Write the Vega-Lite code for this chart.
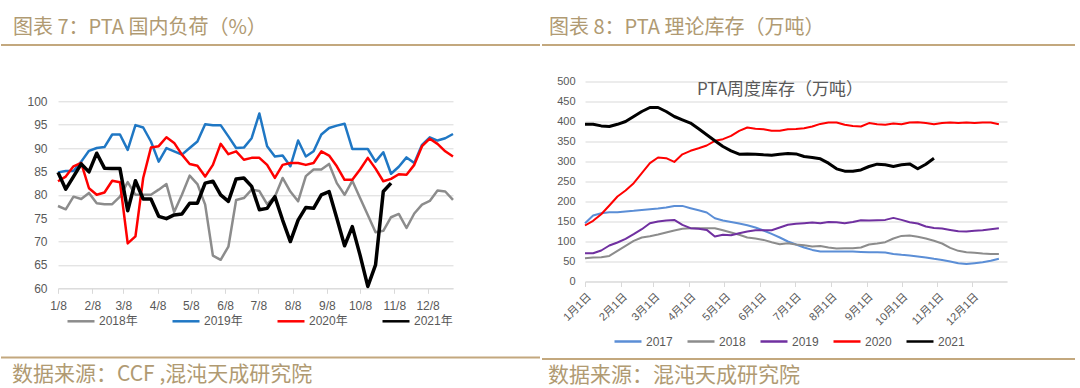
{
"$schema": "https://vega.github.io/schema/vega-lite/v6.json",
"padding": {"top": 17, "left": 0, "right": 0, "bottom": 4},
"background": "white",
"config": {"view": {"stroke": null}, "font": "Liberation Sans, Noto Sans CJK SC", "axis": {"labelFont": "Liberation Sans, Noto Sans CJK SC"}, "legend": {"labelFont": "Liberation Sans, Noto Sans CJK SC"}},
"datasets": {
"left": [
{"d":"2001-01-08","s":"2018年","v":77.6},{"d":"2001-01-15","s":"2018年","v":76.9},{"d":"2001-01-22","s":"2018年","v":79.6},{"d":"2001-01-29","s":"2018年","v":79.1},{"d":"2001-02-05","s":"2018年","v":80.4},{"d":"2001-02-12","s":"2018年","v":78.2},{"d":"2001-02-19","s":"2018年","v":78},{"d":"2001-02-26","s":"2018年","v":78},{"d":"2001-03-05","s":"2018年","v":79.6},{"d":"2001-03-12","s":"2018年","v":82.7},{"d":"2001-03-19","s":"2018年","v":80},{"d":"2001-03-26","s":"2018年","v":80},{"d":"2001-04-02","s":"2018年","v":80},{"d":"2001-04-09","s":"2018年","v":81.1},{"d":"2001-04-16","s":"2018年","v":82.3},{"d":"2001-04-23","s":"2018年","v":76.3},{"d":"2001-04-30","s":"2018年","v":80},{"d":"2001-05-07","s":"2018年","v":84.1},{"d":"2001-05-14","s":"2018年","v":82.3},{"d":"2001-05-21","s":"2018年","v":77.9},{"d":"2001-05-28","s":"2018年","v":67},{"d":"2001-06-04","s":"2018年","v":66.1},{"d":"2001-06-11","s":"2018年","v":68.9},{"d":"2001-06-18","s":"2018年","v":78.9},{"d":"2001-06-25","s":"2018年","v":79.3},{"d":"2001-07-02","s":"2018年","v":81.1},{"d":"2001-07-09","s":"2018年","v":80.8},{"d":"2001-07-16","s":"2018年","v":78},{"d":"2001-07-23","s":"2018年","v":79.6},{"d":"2001-07-30","s":"2018年","v":83.6},{"d":"2001-08-06","s":"2018年","v":80.7},{"d":"2001-08-13","s":"2018年","v":78.6},{"d":"2001-08-20","s":"2018年","v":84},{"d":"2001-08-27","s":"2018年","v":85.4},{"d":"2001-09-03","s":"2018年","v":85.4},{"d":"2001-09-10","s":"2018年","v":86.6},{"d":"2001-09-17","s":"2018年","v":82.5},{"d":"2001-09-24","s":"2018年","v":80},{"d":"2001-10-01","s":"2018年","v":83},{"d":"2001-10-08","s":"2018年","v":79.3},{"d":"2001-10-15","s":"2018年","v":75.7},{"d":"2001-10-22","s":"2018年","v":72},{"d":"2001-10-29","s":"2018年","v":72.3},{"d":"2001-11-05","s":"2018年","v":75.2},{"d":"2001-11-12","s":"2018年","v":75.9},{"d":"2001-11-19","s":"2018年","v":72.9},{"d":"2001-11-26","s":"2018年","v":76},{"d":"2001-12-03","s":"2018年","v":77.9},{"d":"2001-12-10","s":"2018年","v":78.7},{"d":"2001-12-17","s":"2018年","v":80.9},{"d":"2001-12-24","s":"2018年","v":80.7},{"d":"2001-12-31","s":"2018年","v":78.9},
{"d":"2001-01-08","s":"2019年","v":84.8},{"d":"2001-01-15","s":"2019年","v":85.1},{"d":"2001-01-22","s":"2019年","v":85.1},{"d":"2001-01-29","s":"2019年","v":87.1},{"d":"2001-02-05","s":"2019年","v":89.4},{"d":"2001-02-12","s":"2019年","v":90},{"d":"2001-02-19","s":"2019年","v":90.2},{"d":"2001-02-26","s":"2019年","v":92.9},{"d":"2001-03-05","s":"2019年","v":92.9},{"d":"2001-03-12","s":"2019年","v":89.6},{"d":"2001-03-19","s":"2019年","v":94.9},{"d":"2001-03-26","s":"2019年","v":94.4},{"d":"2001-04-02","s":"2019年","v":91.4},{"d":"2001-04-09","s":"2019年","v":87.1},{"d":"2001-04-16","s":"2019年","v":90},{"d":"2001-04-23","s":"2019年","v":89.3},{"d":"2001-04-30","s":"2019年","v":88.6},{"d":"2001-05-07","s":"2019年","v":90},{"d":"2001-05-14","s":"2019年","v":91.4},{"d":"2001-05-21","s":"2019年","v":95.1},{"d":"2001-05-28","s":"2019年","v":94.9},{"d":"2001-06-04","s":"2019年","v":94.9},{"d":"2001-06-11","s":"2019年","v":92.5},{"d":"2001-06-18","s":"2019年","v":90},{"d":"2001-06-25","s":"2019年","v":90.1},{"d":"2001-07-02","s":"2019年","v":92.1},{"d":"2001-07-09","s":"2019年","v":97.4},{"d":"2001-07-16","s":"2019年","v":90.4},{"d":"2001-07-23","s":"2019年","v":88.2},{"d":"2001-07-30","s":"2019年","v":88.4},{"d":"2001-08-06","s":"2019年","v":86.1},{"d":"2001-08-13","s":"2019年","v":91.6},{"d":"2001-08-20","s":"2019年","v":88.2},{"d":"2001-08-27","s":"2019年","v":89.3},{"d":"2001-09-03","s":"2019年","v":92.9},{"d":"2001-09-10","s":"2019年","v":94.3},{"d":"2001-09-17","s":"2019年","v":94.8},{"d":"2001-09-24","s":"2019年","v":95.2},{"d":"2001-10-01","s":"2019年","v":89.8},{"d":"2001-10-08","s":"2019年","v":89.8},{"d":"2001-10-15","s":"2019年","v":89.8},{"d":"2001-10-22","s":"2019年","v":87.1},{"d":"2001-10-29","s":"2019年","v":89.1},{"d":"2001-11-05","s":"2019年","v":84.5},{"d":"2001-11-12","s":"2019年","v":86},{"d":"2001-11-19","s":"2019年","v":88},{"d":"2001-11-26","s":"2019年","v":86.8},{"d":"2001-12-03","s":"2019年","v":90.7},{"d":"2001-12-10","s":"2019年","v":92.3},{"d":"2001-12-17","s":"2019年","v":91.6},{"d":"2001-12-24","s":"2019年","v":92.1},{"d":"2001-12-31","s":"2019年","v":93},
{"d":"2001-01-08","s":"2020年","v":82.9},{"d":"2001-01-15","s":"2020年","v":83.9},{"d":"2001-01-22","s":"2020年","v":86.1},{"d":"2001-01-29","s":"2020年","v":86.8},{"d":"2001-02-05","s":"2020年","v":81.4},{"d":"2001-02-12","s":"2020年","v":80},{"d":"2001-02-19","s":"2020年","v":80.5},{"d":"2001-02-26","s":"2020年","v":83},{"d":"2001-03-05","s":"2020年","v":82.7},{"d":"2001-03-12","s":"2020年","v":69.6},{"d":"2001-03-19","s":"2020年","v":71.1},{"d":"2001-03-26","s":"2020年","v":83.6},{"d":"2001-04-02","s":"2020年","v":90.1},{"d":"2001-04-09","s":"2020年","v":90.4},{"d":"2001-04-16","s":"2020年","v":92.3},{"d":"2001-04-23","s":"2020年","v":91.1},{"d":"2001-04-30","s":"2020年","v":88.6},{"d":"2001-05-07","s":"2020年","v":86.6},{"d":"2001-05-14","s":"2020年","v":86.2},{"d":"2001-05-21","s":"2020年","v":83.9},{"d":"2001-05-28","s":"2020年","v":86.4},{"d":"2001-06-04","s":"2020年","v":90.9},{"d":"2001-06-11","s":"2020年","v":88.7},{"d":"2001-06-18","s":"2020年","v":89.3},{"d":"2001-06-25","s":"2020年","v":87.5},{"d":"2001-07-02","s":"2020年","v":87.9},{"d":"2001-07-09","s":"2020年","v":87.9},{"d":"2001-07-16","s":"2020年","v":86.4},{"d":"2001-07-23","s":"2020年","v":83.6},{"d":"2001-07-30","s":"2020年","v":86.4},{"d":"2001-08-06","s":"2020年","v":86.8},{"d":"2001-08-13","s":"2020年","v":86.8},{"d":"2001-08-20","s":"2020年","v":86.4},{"d":"2001-08-27","s":"2020年","v":86.8},{"d":"2001-09-03","s":"2020年","v":89.3},{"d":"2001-09-10","s":"2020年","v":88.4},{"d":"2001-09-17","s":"2020年","v":86.1},{"d":"2001-09-24","s":"2020年","v":83.2},{"d":"2001-10-01","s":"2020年","v":83.2},{"d":"2001-10-08","s":"2020年","v":85.4},{"d":"2001-10-15","s":"2020年","v":87.9},{"d":"2001-10-22","s":"2020年","v":85.6},{"d":"2001-10-29","s":"2020年","v":82.9},{"d":"2001-11-05","s":"2020年","v":83.4},{"d":"2001-11-12","s":"2020年","v":84.4},{"d":"2001-11-19","s":"2020年","v":84.3},{"d":"2001-11-26","s":"2020年","v":86.4},{"d":"2001-12-03","s":"2020年","v":90.4},{"d":"2001-12-10","s":"2020年","v":92},{"d":"2001-12-17","s":"2020年","v":90.9},{"d":"2001-12-24","s":"2020年","v":89.3},{"d":"2001-12-31","s":"2020年","v":88.2},
{"d":"2001-01-08","s":"2021年","v":84.8},{"d":"2001-01-15","s":"2021年","v":81.2},{"d":"2001-01-22","s":"2021年","v":83.9},{"d":"2001-01-29","s":"2021年","v":86.6},{"d":"2001-02-05","s":"2021年","v":84.9},{"d":"2001-02-12","s":"2021年","v":88.9},{"d":"2001-02-19","s":"2021年","v":85.7},{"d":"2001-02-26","s":"2021年","v":85.6},{"d":"2001-03-05","s":"2021年","v":85.6},{"d":"2001-03-12","s":"2021年","v":76.6},{"d":"2001-03-19","s":"2021年","v":83},{"d":"2001-03-26","s":"2021年","v":79.1},{"d":"2001-04-02","s":"2021年","v":79.1},{"d":"2001-04-09","s":"2021年","v":75.4},{"d":"2001-04-16","s":"2021年","v":74.9},{"d":"2001-04-23","s":"2021年","v":75.7},{"d":"2001-04-30","s":"2021年","v":75.9},{"d":"2001-05-07","s":"2021年","v":78.2},{"d":"2001-05-14","s":"2021年","v":78.2},{"d":"2001-05-21","s":"2021年","v":82.5},{"d":"2001-05-28","s":"2021年","v":82.9},{"d":"2001-06-04","s":"2021年","v":80},{"d":"2001-06-11","s":"2021年","v":78.6},{"d":"2001-06-18","s":"2021年","v":83.4},{"d":"2001-06-25","s":"2021年","v":83.6},{"d":"2001-07-02","s":"2021年","v":81.8},{"d":"2001-07-09","s":"2021年","v":76.8},{"d":"2001-07-16","s":"2021年","v":77.1},{"d":"2001-07-23","s":"2021年","v":79.6},{"d":"2001-07-30","s":"2021年","v":74.6},{"d":"2001-08-06","s":"2021年","v":70},{"d":"2001-08-13","s":"2021年","v":74.6},{"d":"2001-08-20","s":"2021年","v":77.3},{"d":"2001-08-27","s":"2021年","v":77.1},{"d":"2001-09-03","s":"2021年","v":80},{"d":"2001-09-10","s":"2021年","v":80.7},{"d":"2001-09-17","s":"2021年","v":75},{"d":"2001-09-24","s":"2021年","v":69.1},{"d":"2001-10-01","s":"2021年","v":73.2},{"d":"2001-10-08","s":"2021年","v":67.1},{"d":"2001-10-15","s":"2021年","v":60.4},{"d":"2001-10-22","s":"2021年","v":65},{"d":"2001-10-29","s":"2021年","v":80.7},{"d":"2001-11-05","s":"2021年","v":82.5}
],
"right": [
{"d":"2001-01-01","s":"2017","v":145.8},{"d":"2001-01-08","s":"2017","v":165},{"d":"2001-01-15","s":"2017","v":170.8},{"d":"2001-01-22","s":"2017","v":173.3},{"d":"2001-01-29","s":"2017","v":173.3},{"d":"2001-02-05","s":"2017","v":175},{"d":"2001-02-12","s":"2017","v":176.7},{"d":"2001-02-19","s":"2017","v":179},{"d":"2001-02-26","s":"2017","v":180.8},{"d":"2001-03-05","s":"2017","v":182.5},{"d":"2001-03-12","s":"2017","v":185},{"d":"2001-03-19","s":"2017","v":189},{"d":"2001-03-26","s":"2017","v":189},{"d":"2001-04-02","s":"2017","v":183.3},{"d":"2001-04-09","s":"2017","v":178},{"d":"2001-04-16","s":"2017","v":172.5},{"d":"2001-04-23","s":"2017","v":158},{"d":"2001-04-30","s":"2017","v":152.5},{"d":"2001-05-07","s":"2017","v":149},{"d":"2001-05-14","s":"2017","v":145},{"d":"2001-05-21","s":"2017","v":140.8},{"d":"2001-05-28","s":"2017","v":135},{"d":"2001-06-04","s":"2017","v":127.5},{"d":"2001-06-11","s":"2017","v":119},{"d":"2001-06-18","s":"2017","v":110},{"d":"2001-06-25","s":"2017","v":100},{"d":"2001-07-02","s":"2017","v":92.5},{"d":"2001-07-09","s":"2017","v":85},{"d":"2001-07-16","s":"2017","v":79},{"d":"2001-07-23","s":"2017","v":75},{"d":"2001-07-30","s":"2017","v":75},{"d":"2001-08-06","s":"2017","v":75},{"d":"2001-08-13","s":"2017","v":75},{"d":"2001-08-20","s":"2017","v":75},{"d":"2001-08-27","s":"2017","v":74},{"d":"2001-09-03","s":"2017","v":73.3},{"d":"2001-09-10","s":"2017","v":73.3},{"d":"2001-09-17","s":"2017","v":72.5},{"d":"2001-09-24","s":"2017","v":69},{"d":"2001-10-01","s":"2017","v":66.7},{"d":"2001-10-08","s":"2017","v":65},{"d":"2001-10-15","s":"2017","v":62.5},{"d":"2001-10-22","s":"2017","v":60},{"d":"2001-10-29","s":"2017","v":56.7},{"d":"2001-11-05","s":"2017","v":54},{"d":"2001-11-12","s":"2017","v":50},{"d":"2001-11-19","s":"2017","v":45.8},{"d":"2001-11-26","s":"2017","v":44},{"d":"2001-12-03","s":"2017","v":45.8},{"d":"2001-12-10","s":"2017","v":48},{"d":"2001-12-17","s":"2017","v":51.7},{"d":"2001-12-24","s":"2017","v":56.7},
{"d":"2001-01-01","s":"2018","v":58.3},{"d":"2001-01-08","s":"2018","v":60},{"d":"2001-01-15","s":"2018","v":60.8},{"d":"2001-01-22","s":"2018","v":64},{"d":"2001-01-29","s":"2018","v":76.7},{"d":"2001-02-05","s":"2018","v":89},{"d":"2001-02-12","s":"2018","v":101.7},{"d":"2001-02-19","s":"2018","v":110},{"d":"2001-02-26","s":"2018","v":113.3},{"d":"2001-03-05","s":"2018","v":117.5},{"d":"2001-03-12","s":"2018","v":122.5},{"d":"2001-03-19","s":"2018","v":127.5},{"d":"2001-03-26","s":"2018","v":131.7},{"d":"2001-04-02","s":"2018","v":133.3},{"d":"2001-04-09","s":"2018","v":133.3},{"d":"2001-04-16","s":"2018","v":133.3},{"d":"2001-04-23","s":"2018","v":133.3},{"d":"2001-04-30","s":"2018","v":128.3},{"d":"2001-05-07","s":"2018","v":122.5},{"d":"2001-05-14","s":"2018","v":116.7},{"d":"2001-05-21","s":"2018","v":110},{"d":"2001-05-28","s":"2018","v":107.5},{"d":"2001-06-04","s":"2018","v":104},{"d":"2001-06-11","s":"2018","v":98.3},{"d":"2001-06-18","s":"2018","v":93.3},{"d":"2001-06-25","s":"2018","v":95.8},{"d":"2001-07-02","s":"2018","v":92.5},{"d":"2001-07-09","s":"2018","v":90.8},{"d":"2001-07-16","s":"2018","v":87.5},{"d":"2001-07-23","s":"2018","v":89},{"d":"2001-07-30","s":"2018","v":85},{"d":"2001-08-06","s":"2018","v":82.5},{"d":"2001-08-13","s":"2018","v":83.3},{"d":"2001-08-20","s":"2018","v":83.3},{"d":"2001-08-27","s":"2018","v":85},{"d":"2001-09-03","s":"2018","v":92.5},{"d":"2001-09-10","s":"2018","v":95},{"d":"2001-09-17","s":"2018","v":98.3},{"d":"2001-09-24","s":"2018","v":107.5},{"d":"2001-10-01","s":"2018","v":114},{"d":"2001-10-08","s":"2018","v":115},{"d":"2001-10-15","s":"2018","v":111.7},{"d":"2001-10-22","s":"2018","v":107.5},{"d":"2001-10-29","s":"2018","v":101.7},{"d":"2001-11-05","s":"2018","v":95},{"d":"2001-11-12","s":"2018","v":84},{"d":"2001-11-19","s":"2018","v":76.7},{"d":"2001-11-26","s":"2018","v":73.3},{"d":"2001-12-03","s":"2018","v":71.7},{"d":"2001-12-10","s":"2018","v":70},{"d":"2001-12-17","s":"2018","v":69},{"d":"2001-12-24","s":"2018","v":69},
{"d":"2001-01-01","s":"2019","v":70.8},{"d":"2001-01-08","s":"2019","v":70.8},{"d":"2001-01-15","s":"2019","v":77.5},{"d":"2001-01-22","s":"2019","v":90},{"d":"2001-01-29","s":"2019","v":97.5},{"d":"2001-02-05","s":"2019","v":106.7},{"d":"2001-02-12","s":"2019","v":118.3},{"d":"2001-02-19","s":"2019","v":130.8},{"d":"2001-02-26","s":"2019","v":145.8},{"d":"2001-03-05","s":"2019","v":150},{"d":"2001-03-12","s":"2019","v":152.5},{"d":"2001-03-19","s":"2019","v":154},{"d":"2001-03-26","s":"2019","v":141.7},{"d":"2001-04-02","s":"2019","v":133.3},{"d":"2001-04-09","s":"2019","v":131.7},{"d":"2001-04-16","s":"2019","v":129},{"d":"2001-04-23","s":"2019","v":112.5},{"d":"2001-04-30","s":"2019","v":116.7},{"d":"2001-05-07","s":"2019","v":115.8},{"d":"2001-05-14","s":"2019","v":120.8},{"d":"2001-05-21","s":"2019","v":125},{"d":"2001-05-28","s":"2019","v":128.3},{"d":"2001-06-04","s":"2019","v":128.3},{"d":"2001-06-11","s":"2019","v":128.3},{"d":"2001-06-18","s":"2019","v":135},{"d":"2001-06-25","s":"2019","v":141.7},{"d":"2001-07-02","s":"2019","v":144.5},{"d":"2001-07-09","s":"2019","v":145.8},{"d":"2001-07-16","s":"2019","v":147.5},{"d":"2001-07-23","s":"2019","v":145.8},{"d":"2001-07-30","s":"2019","v":149},{"d":"2001-08-06","s":"2019","v":148.3},{"d":"2001-08-13","s":"2019","v":145.8},{"d":"2001-08-20","s":"2019","v":149},{"d":"2001-08-27","s":"2019","v":153.3},{"d":"2001-09-03","s":"2019","v":152.5},{"d":"2001-09-10","s":"2019","v":153.3},{"d":"2001-09-17","s":"2019","v":154},{"d":"2001-09-24","s":"2019","v":159},{"d":"2001-10-01","s":"2019","v":154},{"d":"2001-10-08","s":"2019","v":148.3},{"d":"2001-10-15","s":"2019","v":145},{"d":"2001-10-22","s":"2019","v":137.5},{"d":"2001-10-29","s":"2019","v":134},{"d":"2001-11-05","s":"2019","v":132.5},{"d":"2001-11-12","s":"2019","v":129},{"d":"2001-11-19","s":"2019","v":125.8},{"d":"2001-11-26","s":"2019","v":125},{"d":"2001-12-03","s":"2019","v":126.7},{"d":"2001-12-10","s":"2019","v":128.3},{"d":"2001-12-17","s":"2019","v":130.8},{"d":"2001-12-24","s":"2019","v":133.3},
{"d":"2001-01-01","s":"2020","v":140},{"d":"2001-01-08","s":"2020","v":151.7},{"d":"2001-01-15","s":"2020","v":168},{"d":"2001-01-22","s":"2020","v":190},{"d":"2001-01-29","s":"2020","v":212.5},{"d":"2001-02-05","s":"2020","v":227.5},{"d":"2001-02-12","s":"2020","v":245.8},{"d":"2001-02-19","s":"2020","v":270.8},{"d":"2001-02-26","s":"2020","v":295.8},{"d":"2001-03-05","s":"2020","v":310},{"d":"2001-03-12","s":"2020","v":308.3},{"d":"2001-03-19","s":"2020","v":299},{"d":"2001-03-26","s":"2020","v":318},{"d":"2001-04-02","s":"2020","v":326.7},{"d":"2001-04-09","s":"2020","v":333},{"d":"2001-04-16","s":"2020","v":340},{"d":"2001-04-23","s":"2020","v":351.7},{"d":"2001-04-30","s":"2020","v":355.8},{"d":"2001-05-07","s":"2020","v":364},{"d":"2001-05-14","s":"2020","v":376.7},{"d":"2001-05-21","s":"2020","v":385},{"d":"2001-05-28","s":"2020","v":381.7},{"d":"2001-06-04","s":"2020","v":380.8},{"d":"2001-06-11","s":"2020","v":376.7},{"d":"2001-06-18","s":"2020","v":376.7},{"d":"2001-06-25","s":"2020","v":380.8},{"d":"2001-07-02","s":"2020","v":381},{"d":"2001-07-09","s":"2020","v":383},{"d":"2001-07-16","s":"2020","v":387.5},{"d":"2001-07-23","s":"2020","v":394},{"d":"2001-07-30","s":"2020","v":397.5},{"d":"2001-08-06","s":"2020","v":397.5},{"d":"2001-08-13","s":"2020","v":391.7},{"d":"2001-08-20","s":"2020","v":389},{"d":"2001-08-27","s":"2020","v":387.5},{"d":"2001-09-03","s":"2020","v":396},{"d":"2001-09-10","s":"2020","v":393},{"d":"2001-09-17","s":"2020","v":391.7},{"d":"2001-09-24","s":"2020","v":395},{"d":"2001-10-01","s":"2020","v":393},{"d":"2001-10-08","s":"2020","v":397.5},{"d":"2001-10-15","s":"2020","v":398},{"d":"2001-10-22","s":"2020","v":396},{"d":"2001-10-29","s":"2020","v":393},{"d":"2001-11-05","s":"2020","v":396},{"d":"2001-11-12","s":"2020","v":397.5},{"d":"2001-11-19","s":"2020","v":396},{"d":"2001-11-26","s":"2020","v":397.5},{"d":"2001-12-03","s":"2020","v":396},{"d":"2001-12-10","s":"2020","v":397.5},{"d":"2001-12-17","s":"2020","v":397.5},{"d":"2001-12-24","s":"2020","v":393},
{"d":"2001-01-01","s":"2021","v":393},{"d":"2001-01-08","s":"2021","v":393},{"d":"2001-01-15","s":"2021","v":389},{"d":"2001-01-22","s":"2021","v":387.5},{"d":"2001-01-29","s":"2021","v":393},{"d":"2001-02-05","s":"2021","v":400},{"d":"2001-02-12","s":"2021","v":412.5},{"d":"2001-02-19","s":"2021","v":425},{"d":"2001-02-26","s":"2021","v":435},{"d":"2001-03-05","s":"2021","v":435},{"d":"2001-03-12","s":"2021","v":425},{"d":"2001-03-19","s":"2021","v":412.5},{"d":"2001-03-26","s":"2021","v":404},{"d":"2001-04-02","s":"2021","v":396},{"d":"2001-04-09","s":"2021","v":381.7},{"d":"2001-04-16","s":"2021","v":366.7},{"d":"2001-04-23","s":"2021","v":351.7},{"d":"2001-04-30","s":"2021","v":337.5},{"d":"2001-05-07","s":"2021","v":326.7},{"d":"2001-05-14","s":"2021","v":318.3},{"d":"2001-05-21","s":"2021","v":319},{"d":"2001-05-28","s":"2021","v":318.3},{"d":"2001-06-04","s":"2021","v":316.7},{"d":"2001-06-11","s":"2021","v":315.8},{"d":"2001-06-18","s":"2021","v":318.3},{"d":"2001-06-25","s":"2021","v":320},{"d":"2001-07-02","s":"2021","v":319},{"d":"2001-07-09","s":"2021","v":312.5},{"d":"2001-07-16","s":"2021","v":310},{"d":"2001-07-23","s":"2021","v":306.7},{"d":"2001-07-30","s":"2021","v":295.8},{"d":"2001-08-06","s":"2021","v":281.7},{"d":"2001-08-13","s":"2021","v":275.8},{"d":"2001-08-20","s":"2021","v":275.8},{"d":"2001-08-27","s":"2021","v":279},{"d":"2001-09-03","s":"2021","v":287.5},{"d":"2001-09-10","s":"2021","v":293.3},{"d":"2001-09-17","s":"2021","v":291.7},{"d":"2001-09-24","s":"2021","v":287.5},{"d":"2001-10-01","s":"2021","v":291.7},{"d":"2001-10-08","s":"2021","v":294},{"d":"2001-10-15","s":"2021","v":281.7},{"d":"2001-10-22","s":"2021","v":293.3},{"d":"2001-10-29","s":"2021","v":308.3}
]
},
"resolve": {"scale": {"color": "independent"}, "legend": {"color": "independent"}},
"spacing": 0,
"hconcat": [
{
"spacing": 29.3,
"resolve": {"scale": {"color": "independent"}, "legend": {"color": "independent"}},
"vconcat": [
{
"width": 395, "height": 21,
"data": {"values": [{"a": 0, "b": 1, "v": 1}]},
"mark": {"type": "rule", "stroke": "#c3a87e", "strokeWidth": 2},
"encoding": {
"x": {"field": "a", "type": "quantitative", "scale": {"domain": [0, 1], "range": [-57, 482]}, "axis": null},
"x2": {"field": "b"},
"y": {"field": "v", "type": "quantitative", "scale": {"domain": [0, 1]}, "axis": null}},
"title": {"text": "图表 7：PTA 国内负荷（%）", "anchor": "start", "frame": "group", "offset": 6.5, "dx": -45, "fontSize": 20, "fontWeight": "normal", "color": "#b09a72", "font": "Noto Sans CJK SC"}
},
{
"width": 395, "height": 187,
"data": {"name": "left"},
"mark": {"type": "line", "strokeJoin": "round"},
"encoding": {
"x": {"field": "d", "type": "temporal",
 "scale": {"type": "utc", "domain": [{"year": 2001, "month": 1, "date": 8, "utc": true}, {"year": 2001, "month": 12, "date": 31, "utc": true}]},
 "axis": {"title": null, "format": "%-m/%-d", "labelFlush": false, "labelOverlap": false, "labelAngle": 0, "labelFontSize": 12, "labelColor": "#595959", "labelPadding": 7, "tickSize": 5, "tickColor": "#d9d9d9", "domainColor": "#d9d9d9", "grid": false,
  "values": [{"year":2001,"month":1,"date":8,"utc":true},{"year":2001,"month":2,"date":8,"utc":true},{"year":2001,"month":3,"date":8,"utc":true},{"year":2001,"month":4,"date":8,"utc":true},{"year":2001,"month":5,"date":8,"utc":true},{"year":2001,"month":6,"date":8,"utc":true},{"year":2001,"month":7,"date":8,"utc":true},{"year":2001,"month":8,"date":8,"utc":true},{"year":2001,"month":9,"date":8,"utc":true},{"year":2001,"month":10,"date":8,"utc":true},{"year":2001,"month":11,"date":8,"utc":true},{"year":2001,"month":12,"date":8,"utc":true}]}},
"y": {"field": "v", "type": "quantitative", "scale": {"domain": [60, 100], "nice": false, "zero": false},
 "axis": {"title": null, "values": [60, 65, 70, 75, 80, 85, 90, 95, 100], "labelFontSize": 12, "labelColor": "#595959", "labelPadding": 11, "ticks": false, "domain": false, "gridColor": "#d9d9d9", "minExtent": 58, "maxExtent": 58}},
"color": {"field": "s", "type": "nominal", "scale": {"domain": ["2018年", "2019年", "2020年", "2021年"], "range": ["#8c8c8c", "#1f77c4", "#ff0000", "#000000"]},
 "legend": {"orient": "none", "legendX": 8, "legendY": 205, "direction": "horizontal", "columns": 4, "title": null, "symbolType": "stroke", "symbolSize": 729, "symbolStrokeWidth": 2.5, "labelFontSize": 12, "labelColor": "#595959", "labelOffset": 3, "columnPadding": 29, "gridAlign": "all", "padding": 0}},
"strokeWidth": {"condition": {"test": "datum.s === '2021年'", "value": 3.5}, "value": 2.5}
}
},
{
"width": 395, "height": 1,
"data": {"values": [{"a": 0, "b": 1, "v": 1}]},
"mark": {"type": "rule", "stroke": "#c3a87e", "strokeWidth": 2},
"encoding": {
"x": {"field": "a", "type": "quantitative", "scale": {"domain": [0, 1], "range": [-57, 482]}, "axis": null},
"x2": {"field": "b"},
"y": {"field": "v", "type": "quantitative", "scale": {"domain": [0, 1]}, "axis": null}},
"title": {"text": "数据来源：CCF ,混沌天成研究院", "orient": "bottom", "anchor": "start", "frame": "group", "offset": 5, "dx": -46, "fontSize": 21, "fontWeight": "normal", "color": "#b09a72", "font": "Noto Sans CJK SC"}
}
]
},
{
"spacing": 10.5,
"resolve": {"scale": {"color": "independent"}, "legend": {"color": "independent"}},
"vconcat": [
{
"width": 422, "height": 19.6,
"data": {"values": [{"a": 0, "b": 1, "v": 1}]},
"mark": {"type": "rule", "stroke": "#c3a87e", "strokeWidth": 2},
"encoding": {
"x": {"field": "a", "type": "quantitative", "scale": {"domain": [0, 1], "range": [-43, 490]}, "axis": null},
"x2": {"field": "b"},
"y": {"field": "v", "type": "quantitative", "scale": {"domain": [0, 1]}, "axis": null}},
"title": {"text": "图表 8：PTA 理论库存（万吨）", "anchor": "start", "frame": "group", "offset": 6.5, "dx": -36, "fontSize": 20, "fontWeight": "normal", "color": "#b09a72", "font": "Noto Sans CJK SC"}
},
{
"width": 422, "height": 200,
"data": {"name": "right"},
"title": {"text": "PTA周度库存（万吨）", "anchor": "middle", "frame": "group", "offset": -23, "dx": -16, "fontSize": 17, "fontWeight": "normal", "color": "#595959", "font": "Noto Sans CJK SC"},
"mark": {"type": "line", "strokeJoin": "round"},
"encoding": {
"x": {"field": "d", "type": "temporal",
 "scale": {"type": "utc", "domain": [{"year": 2001, "month": 1, "date": 1, "utc": true}, {"year": 2001, "month": 12, "date": 31, "utc": true}]},
 "axis": {"title": null, "format": "%-m月%-d日", "labelFlush": false, "labelOverlap": false, "labelAngle": -45, "labelFontSize": 11, "labelColor": "#595959", "labelPadding": 4, "tickSize": 5, "tickColor": "#d9d9d9", "domainColor": "#d9d9d9", "grid": false,
  "values": [{"year":2001,"month":1,"date":1,"utc":true},{"year":2001,"month":2,"date":1,"utc":true},{"year":2001,"month":3,"date":1,"utc":true},{"year":2001,"month":4,"date":1,"utc":true},{"year":2001,"month":5,"date":1,"utc":true},{"year":2001,"month":6,"date":1,"utc":true},{"year":2001,"month":7,"date":1,"utc":true},{"year":2001,"month":8,"date":1,"utc":true},{"year":2001,"month":9,"date":1,"utc":true},{"year":2001,"month":10,"date":1,"utc":true},{"year":2001,"month":11,"date":1,"utc":true},{"year":2001,"month":12,"date":1,"utc":true}]}},
"y": {"field": "v", "type": "quantitative", "scale": {"domain": [0, 500], "nice": false},
 "axis": {"title": null, "values": [0, 50, 100, 150, 200, 250, 300, 350, 400, 450, 500], "labelFontSize": 11, "labelColor": "#595959", "labelPadding": 10, "ticks": false, "domain": false, "gridColor": "#d9d9d9", "minExtent": 44, "maxExtent": 44}},
"color": {"field": "s", "type": "nominal", "scale": {"domain": ["2017", "2018", "2019", "2020", "2021"], "range": ["#5b8ed6", "#8c8c8c", "#7030a0", "#ff0000", "#000000"]},
 "legend": {"orient": "none", "legendX": 28, "legendY": 245, "direction": "horizontal", "columns": 5, "title": null, "symbolType": "stroke", "symbolSize": 729, "symbolStrokeWidth": 2.5, "labelFontSize": 12, "labelColor": "#595959", "labelOffset": 3, "columnPadding": 9, "gridAlign": "all", "padding": 0}},
"strokeWidth": {"condition": {"test": "datum.s === '2021'", "value": 3}, "value": 2}
}
},
{
"width": 422, "height": 1,
"data": {"values": [{"a": 0, "b": 1, "v": 1}]},
"mark": {"type": "rule", "stroke": "#c3a87e", "strokeWidth": 2},
"encoding": {
"x": {"field": "a", "type": "quantitative", "scale": {"domain": [0, 1], "range": [-43, 490]}, "axis": null},
"x2": {"field": "b"},
"y": {"field": "v", "type": "quantitative", "scale": {"domain": [0, 1]}, "axis": null}},
"title": {"text": "数据来源：混沌天成研究院", "orient": "bottom", "anchor": "start", "frame": "group", "offset": 5, "dx": -37, "fontSize": 21, "fontWeight": "normal", "color": "#b09a72", "font": "Noto Sans CJK SC"}
}
]
}
]
}
